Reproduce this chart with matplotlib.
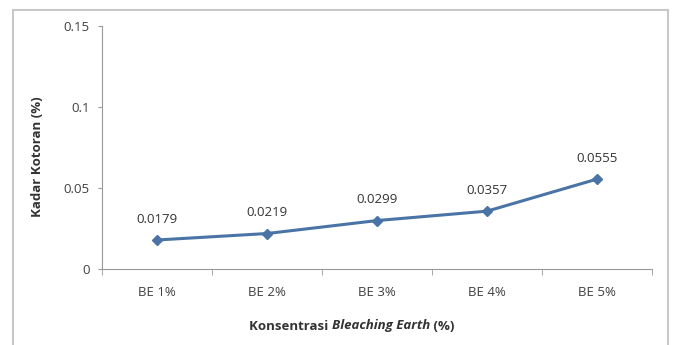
import matplotlib
matplotlib.use("Agg")
import matplotlib.pyplot as plt
from matplotlib.patches import Rectangle
from matplotlib.offsetbox import TextArea, HPacker, AnchoredOffsetbox

categories = ["BE 1%", "BE 2%", "BE 3%", "BE 4%", "BE 5%"]
values = [0.0179, 0.0219, 0.0299, 0.0357, 0.0555]
labels = ["0.0179", "0.0219", "0.0299", "0.0357", "0.0555"]
yticks = [0, 0.05, 0.1, 0.15]
ytick_labels = ["0", "0.05", "0.1", "0.15"]

plt.rcParams['font.family'] = ['Open Sans', 'DejaVu Sans']

W, H = 673, 345
fig = plt.figure(figsize=(W / 100, H / 100), dpi=100)
fig.patch.set_facecolor("white")

# outer chart border
fig.patches.append(Rectangle((13 / W, -0.05), (668 - 13) / W, (H - 10) / H + 0.05,
                             transform=fig.transFigure, fill=False,
                             edgecolor="#c8c8c8", linewidth=1.5))

ax = fig.add_axes([102 / W, 1 - 269 / H, (652 - 102) / W, (269 - 26) / H])
x = list(range(len(categories)))
ax.plot(x, values, color="#4a74a6", linewidth=2.2, marker="D", markersize=5,
        markerfacecolor="#4a74a6", markeredgecolor="#4a74a6")
for xi, v, lab in zip(x, values, labels):
    ax.annotate(lab, (xi, v), xytext=(0, 15), textcoords="offset points",
                ha="center", va="center", fontsize=9.5, color="#333333")

ax.set_xlim(-0.5, len(categories) - 0.5)
ax.set_ylim(0, 0.15)
ax.set_yticks(yticks)
ax.set_yticklabels(ytick_labels, fontsize=9.5, color="#404040")
ax.set_xticks(x)
ax.set_xticklabels(categories, fontsize=9.5, color="#404040")
ax.set_xticks([i + 0.5 for i in range(-1, len(categories))], minor=True)
ax.tick_params(axis="x", which="major", length=0, pad=12)
ax.tick_params(axis="x", which="minor", length=4, color="#999999", direction="out")
ax.tick_params(axis="y", length=3, color="#999999", pad=6)

for s in ["top", "right"]:
    ax.spines[s].set_visible(False)
ax.spines["left"].set_color("#999999")
ax.spines["bottom"].set_color("#999999")

ax.set_ylabel("Kadar Kotoran (%)", fontsize=9.5, fontweight="bold", color="#333333")
ax.yaxis.set_label_coords((37.5 - 102) / 550, (269 - 157) / 243)
ax.yaxis.label.set_va("center")

# x-axis title with mixed bold / bold-italic parts
props = dict(fontsize=9.5, fontweight="bold", color="#333333")
parts = [
    TextArea("Konsentrasi ", textprops=props),
    TextArea("Bleaching Earth", textprops=dict(props, style="italic")),
    TextArea(" (%)", textprops=props),
]
box = HPacker(children=parts, align="baseline", pad=0, sep=0)
anchored = AnchoredOffsetbox(loc="center", child=box, pad=0, frameon=False,
                             bbox_to_anchor=((352 - 102) / 550, -(326 - 269) / 243),
                             bbox_transform=ax.transAxes, borderpad=0)
ax.add_artist(anchored)

fig.savefig("out.png", dpi=100)
